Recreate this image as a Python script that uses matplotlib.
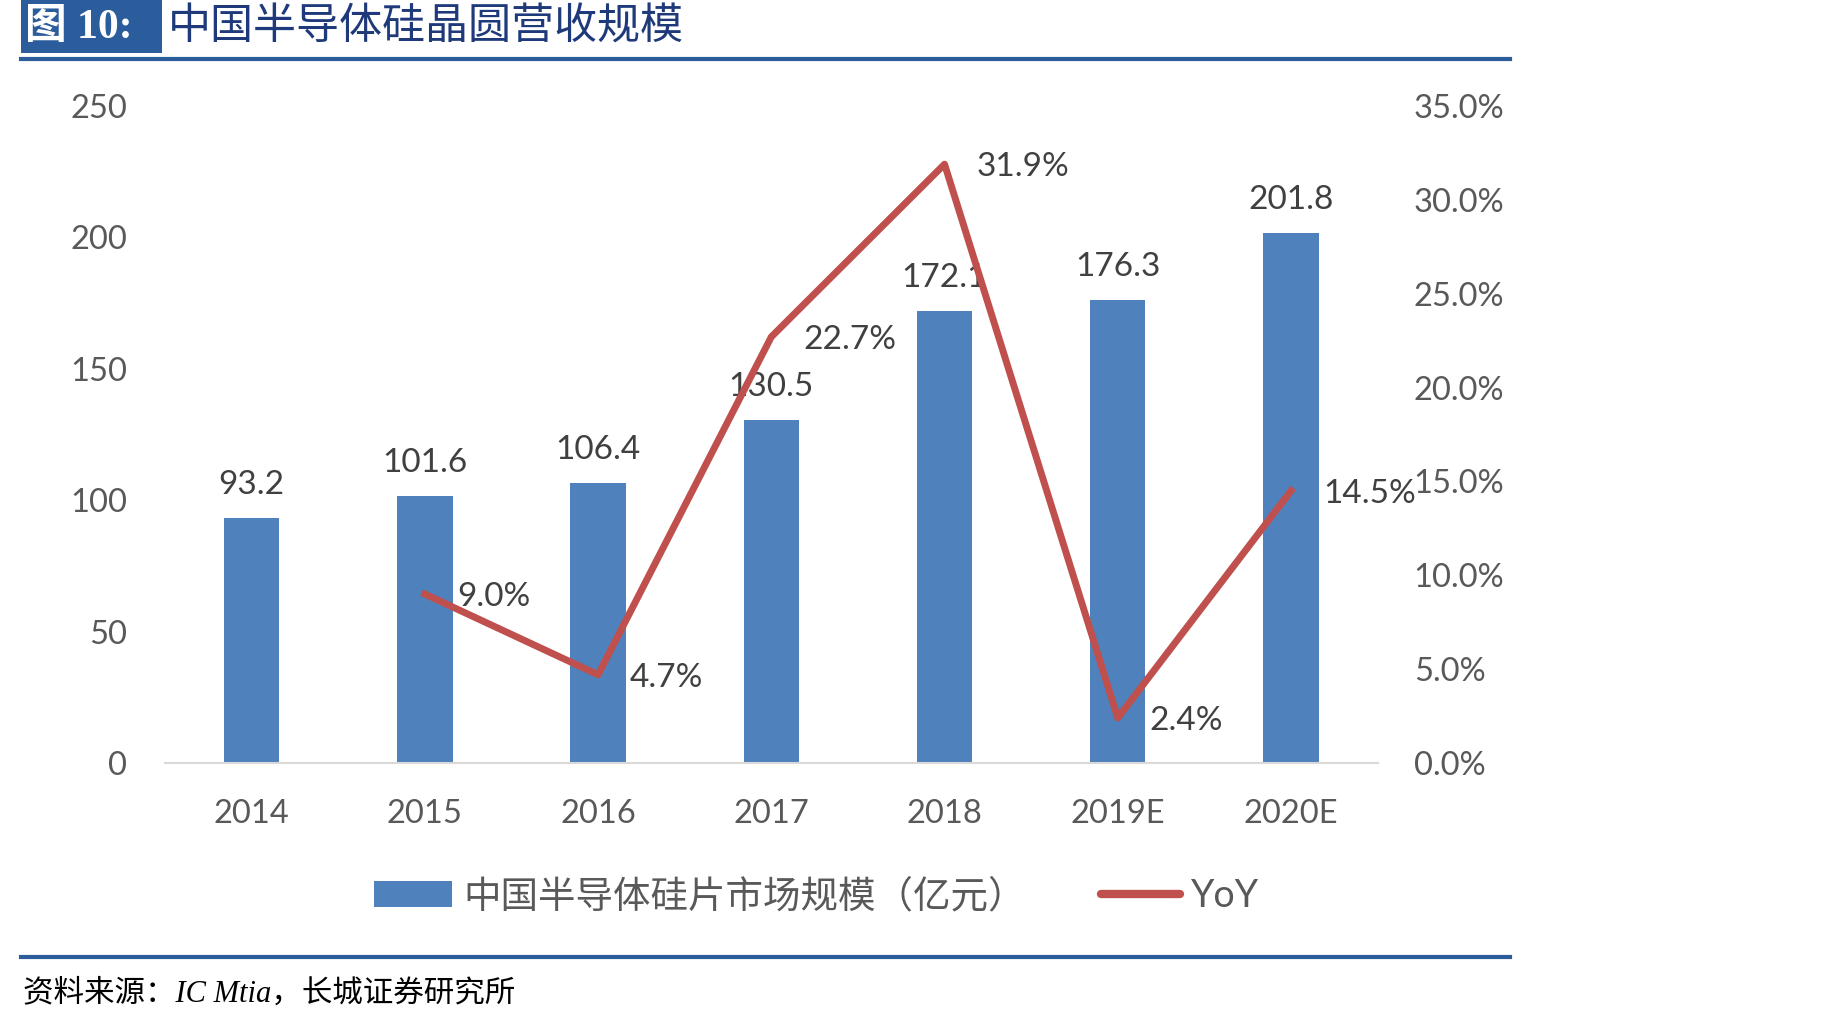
import matplotlib.pyplot as plt
from matplotlib.patches import Rectangle, Patch
from matplotlib.lines import Line2D
from matplotlib.ticker import FuncFormatter

plt.rcParams['font.family'] = ['Lato', 'Noto Sans CJK SC', 'DejaVu Sans']

# data
years = ['2014', '2015', '2016', '2017', '2018', '2019E', '2020E']
market = [93.2, 101.6, 106.4, 130.5, 172.1, 176.3, 201.8]
yoy_years = ['2015', '2016', '2017', '2018', '2019E', '2020E']
yoy = [9.0, 4.7, 22.7, 31.9, 2.4, 14.5]

bar_color = '#4F81BD'
line_color = '#C0504D'
tick_color = '#595959'
label_color = '#404040'
frame_blue = '#2B5C9B'

fig = plt.figure(figsize=(18.43, 10.24), dpi=100)

ax = fig.add_axes([0.0895, 0.2549, 0.658, 0.6416])
x = list(range(len(years)))
ax.bar(x, market, width=0.32, color=bar_color, zorder=2)
ax.set_xlim(-0.5, len(years) - 0.5)
ax.set_ylim(0, 250)
ax.set_yticks(range(0, 251, 50))
ax.set_xticks(x)
ax.set_xticklabels(years)
for s in ['top', 'right', 'left']:
    ax.spines[s].set_visible(False)
ax.spines['bottom'].set_color('#D9D9D9')
ax.spines['bottom'].set_linewidth(1.5)
ax.tick_params(axis='both', length=0, labelsize=23.5, colors=tick_color)
ax.tick_params(axis='y', pad=27)
ax.tick_params(axis='x', pad=26)
for xi, v in zip(x, market):
    ax.annotate(f'{v:.1f}', (xi, v), xytext=(0, 13), textcoords='offset points',
                ha='center', va='bottom', fontsize=24, color=label_color)

ax2 = ax.twinx()
xl = [years.index(y) for y in yoy_years]
ax2.plot(xl, yoy, color=line_color, linewidth=5, zorder=3)
ax2.set_ylim(0, 35)
ax2.set_yticks(range(0, 36, 5))
ax2.yaxis.set_major_formatter(FuncFormatter(lambda v, p: f'{v:.1f}%'))
for s in ['top', 'right', 'left', 'bottom']:
    ax2.spines[s].set_visible(False)
ax2.tick_params(axis='y', length=0, labelsize=23.5, colors=tick_color, pad=26)
for xi, v in zip(xl, yoy):
    ax2.annotate(f'{v:.1f}%', (xi, v), xytext=(23, -2), textcoords='offset points',
                 ha='left', va='center', fontsize=24, color=label_color)

# legend
handles = [Patch(facecolor=bar_color, label='中国半导体硅片市场规模（亿元）'),
           Line2D([0], [0], color=line_color, linewidth=6, solid_capstyle='round', label='YoY')]
leg = fig.legend(handles=handles, loc='center', bbox_to_anchor=(0.443, 0.125), ncol=2,
                 frameon=False, fontsize=27, handlelength=2.1, handleheight=0.7,
                 columnspacing=2.0, handletextpad=0.3)
for t in leg.get_texts():
    t.set_color(tick_color)

# header
fig.patches.append(Rectangle((0.0114, 0.948), 0.0765, 0.052, transform=fig.transFigure,
                             facecolor=frame_blue, edgecolor='none'))
fig.text(0.0135, 0.973, '图 10:', color='white', fontsize=30, fontweight='bold',
         family=['Liberation Serif', 'Noto Sans CJK SC'], va='center', ha='left')
fig.text(0.091, 0.973, '中国半导体硅晶圆营收规模', color='#1F3A7A', fontsize=31,
         family=['Noto Sans CJK SC'], va='center', ha='left')
fig.add_artist(Line2D([0.0114, 0.8195], [0.942, 0.942], transform=fig.transFigure,
                      color=frame_blue, linewidth=3))
fig.add_artist(Line2D([0.0114, 0.8195], [0.0655, 0.0655], transform=fig.transFigure,
                      color=frame_blue, linewidth=3))
fig.text(0.0125, 0.029, '资料来源：IC Mtia，长城证券研究所', color='black', fontsize=22,
         style='italic', family=['Liberation Serif', 'Noto Sans CJK SC'], va='center', ha='left')

fig.savefig('out.png', dpi=100, facecolor='white')
